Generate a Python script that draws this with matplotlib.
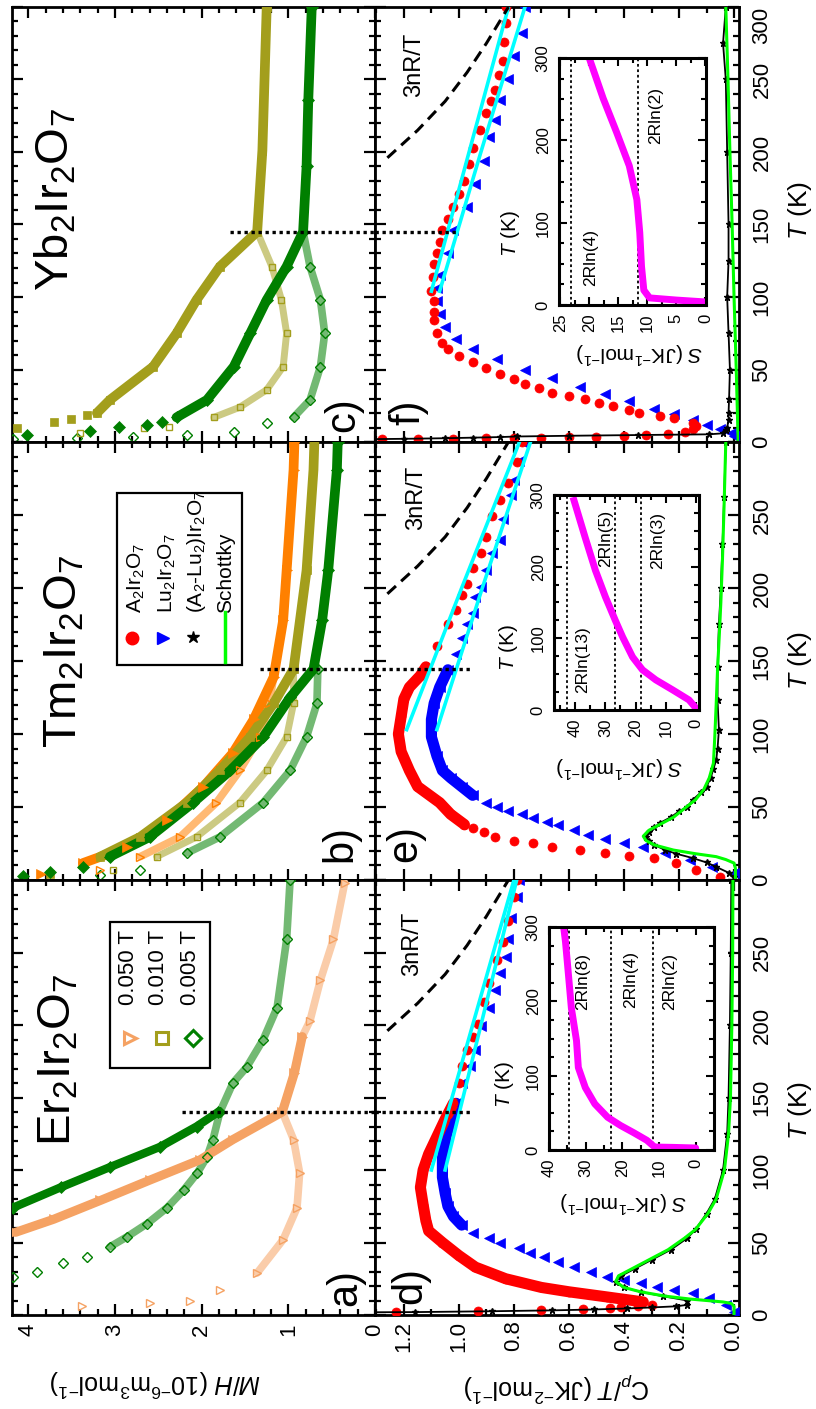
import numpy as np
import matplotlib
matplotlib.use('Agg')
import matplotlib.pyplot as plt
from matplotlib.colors import to_rgb
from matplotlib.lines import Line2D
from matplotlib.patches import Rectangle
from matplotlib.ticker import MultipleLocator, FixedLocator

plt.rcParams['font.family'] = ['Liberation Sans', 'DejaVu Sans']
plt.rcParams['mathtext.fontset'] = 'custom'
plt.rcParams['mathtext.rm'] = 'Liberation Sans'
plt.rcParams['mathtext.it'] = 'Liberation Sans:italic'
plt.rcParams['mathtext.bf'] = 'Liberation Sans:bold'
plt.rcParams['axes.linewidth'] = 2.0

# ---------------- M/H data (10^-6 m^3/mol) vs T (K) ----------------
# a) Er2Ir2O7
er_fc050_T = [57, 66, 79, 93, 107, 121, 140, 167, 192]
er_fc050 = [4.15, 3.71, 3.17, 2.60, 2.02, 1.64, 1.07, 0.93, 0.84]
er_zfc050_T = [6, 8, 10, 17, 29, 52, 74, 98, 121, 140, 167, 192, 203, 231, 259, 298]
er_zfc050 = [3.38, 2.60, 2.13, 1.79, 1.36, 1.06, 0.90, 0.87, 0.94, 1.07, 0.93, 0.84, 0.75, 0.63, 0.48, 0.35]
er_fc005_T = [74, 88, 102, 116, 130, 140]
er_fc005 = [4.18, 3.63, 3.06, 2.48, 2.06, 1.81]
er_zfc005_T = [26, 30, 36, 40, 47, 54, 63, 74, 86, 98, 109, 121, 140, 160, 171, 190, 212, 259, 300]
er_zfc005 = [4.18, 3.90, 3.60, 3.33, 3.06, 2.86, 2.63, 2.40, 2.21, 2.05, 1.94, 1.87, 1.79,
             1.64, 1.48, 1.29, 1.13, 1.02, 0.98]

# b) Tm2Ir2O7
tm_fc050_T = [4, 11.6, 22.6, 41, 64, 87, 110, 139, 178, 212, 281, 300]
tm_fc050 = [3.86, 3.37, 2.86, 2.40, 1.98, 1.64, 1.40, 1.17, 1.06, 1.02, 0.94, 0.93]
tm_zfc050_T = [7, 16, 29.5, 53, 75, 98, 121, 139]
tm_zfc050 = [3.17, 2.71, 2.25, 1.83, 1.56, 1.33, 1.22, 1.17]
tm_fc010_T = [4, 16, 29.5, 53, 75, 98, 121, 144.5, 212, 281, 300]
tm_fc010 = [3.75, 3.17, 2.71, 2.17, 1.79, 1.44, 1.17, 0.94, 0.79, 0.71, 0.70]
tm_zfc010_T = [7, 16, 29.5, 53, 75, 98, 121, 144.5]
tm_zfc010 = [3.02, 2.52, 2.06, 1.56, 1.25, 1.02, 0.94, 0.94]
tm_fc005_T = [2.7, 5.5, 9, 16, 29.5, 53, 75, 98, 125, 144.5, 178, 212, 281, 300]
tm_fc005 = [4.06, 3.75, 3.37, 3.06, 2.60, 2.10, 1.67, 1.29, 0.98, 0.71, 0.61, 0.54, 0.44, 0.43]
tm_zfc005_T = [3.4, 7, 18.5, 29.5, 53, 75, 98, 121, 144.5]
tm_zfc005 = [3.17, 2.71, 2.17, 1.79, 1.29, 0.98, 0.79, 0.67, 0.66]

# c) Yb2Ir2O7
yb_fc010_T = [10, 13.8, 16, 18.6, 20, 29, 52, 75, 98, 121, 145, 201, 300]
yb_fc010 = [4.13, 3.71, 3.51, 3.33, 3.21, 3.06, 2.56, 2.29, 2.06, 1.79, 1.36, 1.30, 1.25]
yb_zfc010_T = [6.2, 9.7, 10.3, 17, 24, 36, 52, 75, 98, 121, 145]
yb_zfc010 = [3.40, 2.67, 2.38, 1.86, 1.56, 1.25, 1.06, 1.02, 1.08, 1.19, 1.36]
yb_fc005_T = [4.8, 7.6, 10.3, 11.7, 14, 17, 29, 52, 75, 98, 121, 145, 190, 236, 300]
yb_fc005 = [4.02, 3.29, 2.96, 2.63, 2.46, 2.29, 1.94, 1.63, 1.44, 1.25, 1.02, 0.83, 0.79, 0.77, 0.73]
yb_zfc005_T = [2.0, 2.8, 3.4, 4.8, 6.9, 13, 17, 29, 52, 75, 98, 121, 145]
yb_zfc005 = [4.18, 3.44, 2.79, 2.17, 1.63, 1.25, 0.94, 0.75, 0.63, 0.58, 0.63, 0.75, 0.83]

# transition temperatures marked by dotted lines
tn_er, tn_tm, tn_yb = 140, 144.5, 145

# ---------------- Cp/T data (J K^-2 mol^-1) vs T (K) ----------------
# d) Er2Ir2O7
er_cp_T = [2.0, 2.8, 3.4, 4.0, 4.8, 5.5, 6.2, 6.9, 9, 12.4, 16, 19, 25, 33, 41, 50, 58, 65, 76, 88,
           100, 111, 123, 135, 146, 160, 172, 183, 192, 201, 216, 229, 245, 257, 272, 288, 300]
er_cp = [1.23, 0.93, 0.70, 0.55, 0.45, 0.41, 0.35, 0.30, 0.33, 0.46, 0.60, 0.70, 0.83, 0.94, 1.00,
         1.06, 1.11, 1.12, 1.13, 1.14, 1.13, 1.11, 1.08, 1.05, 1.02, 1.00, 0.99, 0.97, 0.95, 0.93,
         0.91, 0.89, 0.86, 0.84, 0.82, 0.80, 0.79]
lu_d_T = [2.3, 6.9, 11.5, 15.0, 17.2, 19.5, 21.8, 24.1, 26.4, 29.9, 33.3, 36.8, 40.2, 42.6, 46.0,
          49.4, 52.9, 56.3, 62, 68, 75, 84, 95, 108, 121, 134, 146, 160, 172, 183, 199, 212, 224,
          236, 247, 259, 274, 288, 300]
lu_d = [0.0, 0.03, 0.09, 0.15, 0.22, 0.28, 0.34, 0.40, 0.46, 0.52, 0.58, 0.64, 0.69, 0.74, 0.78,
        0.85, 0.89, 0.95, 0.99, 1.02, 1.04, 1.05, 1.06, 1.06, 1.05, 1.03, 1.01, 0.99, 0.96, 0.94,
        0.92, 0.89, 0.87, 0.85, 0.83, 0.82, 0.81, 0.79, 0.78]
diff_d_T = [1.8, 2.0, 2.6, 3.2, 3.8, 4.5, 5.2, 6.0, 7.0, 10, 13, 16, 19, 23, 27, 32, 38, 45, 53,
            59, 70, 80, 100, 125, 150, 200, 250, 300]
diff_d = [1.45, 1.16, 0.88, 0.66, 0.51, 0.39, 0.30, 0.21, 0.17, 0.17, 0.26, 0.34, 0.40, 0.43,
          0.41, 0.36, 0.30, 0.23, 0.17, 0.14, 0.10, 0.07, 0.04, 0.025, 0.02, 0.015, 0.012, 0.01]
sch_d_T = [0, 6, 8, 9, 10, 11, 13, 16, 19, 23, 27, 32, 38, 45, 53, 59, 70, 80, 100, 125, 150,
           200, 250, 300]
sch_d = [0.0, 0.0, 0.01, 0.04, 0.10, 0.16, 0.25, 0.34, 0.40, 0.43, 0.42, 0.37, 0.31, 0.24, 0.18,
         0.14, 0.095, 0.065, 0.035, 0.02, 0.013, 0.008, 0.005, 0.004]
fit_er_T, fit_er = [100, 200, 300], [1.10, 0.95, 0.80]
fit_lu_d_T, fit_lu_d = [100, 200, 300], [1.05, 0.92, 0.79]

# e) Tm2Ir2O7
tm_cp_T = [2, 6.8, 11.6, 15, 16.5, 18.5, 20.5, 22.6, 25, 27, 29.5, 33, 35.6, 38, 45, 53, 64, 75,
           88, 100, 112, 124, 132, 140, 146, 160, 175, 185, 195, 203, 214, 224, 235, 249, 260,
           272, 286, 300]
tm_cp = [0.05, 0.14, 0.21, 0.29, 0.38, 0.47, 0.56, 0.66, 0.73, 0.80, 0.87, 0.91, 0.95, 0.98,
         1.03, 1.07, 1.15, 1.18, 1.21, 1.22, 1.21, 1.20, 1.18, 1.14, 1.12, 1.08, 1.04, 1.01, 0.99,
         0.97, 0.95, 0.92, 0.90, 0.88, 0.85, 0.82, 0.79, 0.77]
lu_e_T = [5, 9, 14, 18.5, 22.6, 25, 28, 31, 34.5, 38, 40, 42.5, 45, 47, 50, 53, 58, 64, 70, 75,
          85, 98, 110, 121, 132, 144, 155, 166, 175, 183, 194, 201, 212, 224, 233, 247, 264, 274,
          287, 300]
lu_e = [0.0, 0.08, 0.16, 0.25, 0.33, 0.40, 0.47, 0.53, 0.58, 0.64, 0.68, 0.73, 0.77, 0.82, 0.86,
        0.90, 0.95, 0.99, 1.03, 1.06, 1.08, 1.10, 1.10, 1.09, 1.07, 1.04, 1.01, 0.99, 0.97, 0.95,
        0.94, 0.92, 0.90, 0.88, 0.85, 0.84, 0.81, 0.80, 0.78, 0.77]
diff_e_T = [2, 5, 9, 12, 15, 18, 20.5, 24, 27, 29.5, 33, 36, 39, 43, 47, 50, 55, 60, 64, 70, 76,
            82, 90, 103, 123, 146, 175, 200, 230, 262, 300]
diff_e = [0.0, 0.02, 0.065, 0.10, 0.15, 0.21, 0.25, 0.29, 0.31, 0.32, 0.31, 0.29, 0.27, 0.23,
          0.20, 0.17, 0.15, 0.12, 0.10, 0.085, 0.075, 0.065, 0.06, 0.055, 0.06, 0.06, 0.055,
          0.048, 0.042, 0.036, 0.03]
sch_e_T = [0, 8, 11.6, 14, 16, 18, 20.5, 24, 27, 30, 34, 38, 43, 49, 55, 62, 70, 80, 98, 120,
           144, 170, 190, 220, 258, 300]
sch_e = [-0.005, -0.005, 0.0, 0.03, 0.065, 0.14, 0.22, 0.29, 0.32, 0.33, 0.31, 0.27, 0.22, 0.18,
         0.14, 0.11, 0.09, 0.075, 0.07, 0.065, 0.06, 0.053, 0.048, 0.042, 0.036, 0.03]
fit_tm_T, fit_tm = [103, 200, 300], [1.19, 0.99, 0.78]
fit_lu_e_T, fit_lu_e = [103, 200, 300], [1.08, 0.915, 0.74]

# f) Yb2Ir2O7
yb_cp_T = [2.0, 2.2, 2.4, 2.6, 2.8, 3.0, 3.3, 3.6, 4.0, 4.5, 5.5, 7, 9, 11, 13, 16.6, 18, 20, 22,
           25, 27, 30, 32, 34, 37, 40, 43.5, 47, 51, 55, 59, 64, 68, 75, 84, 90, 97, 104, 114,
           123, 130, 138, 146, 154, 162, 171, 180, 192, 203, 215, 227, 235, 243, 253, 263, 276,
           289, 300]
yb_cp = [1.28, 1.15, 1.02, 0.90, 0.80, 0.70, 0.60, 0.50, 0.40, 0.32, 0.24, 0.18, 0.15, 0.14,
         0.15, 0.22, 0.27, 0.345, 0.38, 0.44, 0.49, 0.54, 0.60, 0.66, 0.71, 0.76, 0.80, 0.85,
         0.90, 0.95, 1.00, 1.04, 1.06, 1.08, 1.09, 1.09, 1.09, 1.10, 1.095, 1.09, 1.08, 1.07,
         1.06, 1.04, 1.02, 1.00, 0.98, 0.965, 0.95, 0.925, 0.90, 0.885, 0.87, 0.855, 0.84,
         0.835, 0.83, 0.83]
lu_f_T = [4, 6, 9, 12, 15, 19, 23, 28, 33, 38, 44, 50, 57, 64, 71, 79, 88, 97, 106, 115, 130,
          146, 162, 178, 194, 210, 222, 236, 250, 266, 282, 300]
lu_f = [0.0, 0.01, 0.05, 0.10, 0.15, 0.22, 0.29, 0.38, 0.47, 0.56, 0.66, 0.76, 0.86, 0.95, 1.01,
        1.05, 1.07, 1.08, 1.08, 1.07, 1.04, 1.02, 0.97, 0.94, 0.91, 0.89, 0.87, 0.85, 0.82,
        0.80, 0.77, 0.76]
diff_f_T = [1.8, 2.2, 2.6, 3.0, 3.4, 3.8, 4.3, 4.8, 5.3, 6, 8, 10, 15, 20, 30, 50, 75, 100, 125,
            150, 200, 250, 275, 300]
diff_f = [1.4, 1.2, 1.05, 0.95, 0.85, 0.79, 0.6, 0.35, 0.09, 0.04, 0.03, 0.025, 0.02, 0.02,
          0.018, 0.015, 0.02, 0.025, 0.02, 0.02, 0.025, 0.03, 0.04, 0.03]
sch_f_T = [0, 50, 100, 150, 200, 250, 300]
sch_f = [-0.015, -0.008, 0.0, 0.007, 0.015, 0.022, 0.03]
fit_yb_T, fit_yb = [104, 200, 300], [1.10, 0.963, 0.82]
fit_lu_f_T, fit_lu_f = [104, 200, 300], [1.07, 0.92, 0.76]

# 3nR/T guide
dulong_T = [196, 215, 235, 255, 275, 300]
dulong = [1.26, 1.15, 1.05, 0.97, 0.90, 0.82]

# entropy insets, S (J/K/mol) vs T (K)
s_er_T = [1, 2.7, 3.5, 4, 13, 23, 33, 44, 62, 84, 111, 147, 191, 236, 280, 300]
s_er = [0, 0, 6, 11.2, 13.3, 16.8, 20.5, 24, 27.5, 30.1, 32, 32.5, 33.9, 34.7, 35.5, 36]
s_tm_T = [0, 14, 28, 42, 56, 74, 102, 125, 158, 195, 241, 297]
s_tm = [-0.5, 2.3, 7.7, 13.3, 17.7, 21, 24.3, 26.7, 30, 33.3, 36.7, 40.7]
s_yb_T = [3.7, 6, 8.6, 18, 47, 88, 128, 169, 210, 251, 300]
s_yb = [0, 5, 9.6, 10.6, 11.0, 11.3, 11.8, 13.1, 15.3, 17.6, 20]
R = 8.314

# tick labels
mh_ticks = [0, 1, 2, 3, 4]
cp_ticks = [0.0, 0.2, 0.4, 0.6, 0.8, 1.0, 1.2]
cp_tick_labels = ['0.0', '0.2', '0.4', '0.6', '0.8', '1.0', '1.2']
t_ticks = [0, 50, 100, 150, 200, 250, 300]

C_SANDY = '#F5A263'
C_ORANGE = '#FF8000'
C_OLIVE = '#A39E1C'
C_GREEN = '#007F00'
C_RED = '#FF0000'
C_BLUE = '#0000FF'
C_LIME = '#00FF00'
C_CYAN = '#00FFFF'
C_MAG = '#FF00FF'

W, H = 816, 1409
fig = plt.figure(figsize=(W / 100, H / 100), dpi=100)


def px(x0, y0, x1, y1):
    return [x0 / W, 1 - y1 / H, (x1 - x0) / W, (y1 - y0) / H]


def ftext(x, y, s, size, rot=90, ha='center', va='center', **kw):
    fig.text(x / W, 1 - y / H, s, fontsize=size, rotation=rot, ha=ha, va=va, zorder=6, **kw)


def lighten(c, f):
    r, g, b = to_rgb(c)
    return (r + (1 - r) * f, g + (1 - g) * f, b + (1 - b) * f)


def draw(ax, T, v, color, marker, ms=6, hollow=False, band=(0, 301), lw=None, z=3):
    T = np.asarray(T, float)
    v = np.asarray(v, float)
    keep = (T >= band[0]) & (T <= band[1])
    if keep.sum() > 1:
        ax.plot(v[keep], T[keep], color=lighten(color, 0.45) if hollow else color,
                lw=lw or ms, solid_capstyle='round', solid_joinstyle='round', zorder=z)
    ax.plot(v, T, ls='none', marker=marker, ms=ms,
            mfc='none' if hollow else color, mec=color,
            mew=1.0 if hollow else 0.5, zorder=z + 0.1)


def frame(ax, xmaj, xmin_step, ymin_step=10, maj_len=8, min_len=4.5, width=1.6):
    ax.xaxis.set_major_locator(FixedLocator(xmaj))
    ax.xaxis.set_minor_locator(MultipleLocator(xmin_step))
    ax.yaxis.set_major_locator(FixedLocator(t_ticks))
    ax.yaxis.set_minor_locator(MultipleLocator(ymin_step))
    ax.tick_params(which='both', direction='in', top=True, bottom=True, left=True, right=True,
                   labelleft=False, labelbottom=False, width=width)
    ax.tick_params(which='major', length=maj_len)
    ax.tick_params(which='minor', length=min_len)


def mh_axes(box):
    ax = fig.add_axes(px(*box))
    ax.set_xlim(4.19, 0)
    ax.set_ylim(0, 300)
    frame(ax, mh_ticks, 0.2)
    return ax


def cp_axes(box, top_label):
    ax = fig.add_axes(px(*box))
    ax.set_xlim(1.305, -0.018)
    ax.set_ylim(0, 300)
    frame(ax, cp_ticks, 0.1)
    labels = [str(t) for t in t_ticks]
    if not top_label:
        labels[-1] = ''
    ax.set_yticks(t_ticks, labels)
    ax.tick_params(axis='y', labelright=True, labelrotation=90, labelsize=16, pad=9)
    for lab in ax.get_yticklabels():
        lab.set_va('center')
    if top_label:
        # keep the 300 label inside the canvas
        ax.get_yticklabels()[-1].set_va('top')
    return ax


ax_c = mh_axes((12, 7, 375, 442))
ax_b = mh_axes((12, 442, 375, 880))
ax_a = mh_axes((12, 880, 375, 1315))
ax_a.tick_params(axis='x', labelbottom=True, labelrotation=90, labelsize=16, pad=6)

ax_f = cp_axes((375, 7, 739, 442), True)
ax_e = cp_axes((375, 442, 739, 880), False)
ax_d = cp_axes((375, 880, 739, 1315), False)
ax_d.set_xticks(cp_ticks, cp_tick_labels)
ax_d.tick_params(axis='x', labelbottom=True, labelrotation=90, labelsize=16, pad=4)

# ---- magnetisation panels ----
draw(ax_a, er_zfc005_T, er_zfc005, C_GREEN, 'D', ms=5.5, hollow=True, band=(45, 301))
draw(ax_a, er_zfc050_T, er_zfc050, C_SANDY, '>', ms=5.5, hollow=True, band=(25, 301))
draw(ax_a, er_fc050_T, er_fc050, C_SANDY, '>', ms=6.5)
draw(ax_a, er_fc005_T, er_fc005, C_GREEN, 'D', ms=6)

draw(ax_b, tm_zfc005_T, tm_zfc005, C_GREEN, 'D', ms=5.5, hollow=True, band=(15, 301))
draw(ax_b, tm_zfc010_T, tm_zfc010, C_OLIVE, 's', ms=5, hollow=True, band=(15, 301))
draw(ax_b, tm_zfc050_T, tm_zfc050, C_ORANGE, '>', ms=5.5, hollow=True, band=(15, 301))
draw(ax_b, tm_fc050_T, tm_fc050, C_ORANGE, '>', ms=6.5, band=(10, 301), lw=7)
draw(ax_b, tm_fc010_T, tm_fc010, C_OLIVE, 's', ms=6, band=(14, 301), lw=7)
draw(ax_b, tm_fc005_T, tm_fc005, C_GREEN, 'D', ms=6, band=(14, 301), lw=7)

draw(ax_c, yb_zfc005_T, yb_zfc005, C_GREEN, 'D', ms=5.5, hollow=True, band=(15, 301))
draw(ax_c, yb_zfc010_T, yb_zfc010, C_OLIVE, 's', ms=5, hollow=True, band=(15, 301))
draw(ax_c, yb_fc010_T, yb_fc010, C_OLIVE, 's', ms=6, band=(19, 301), lw=7)
draw(ax_c, yb_fc005_T, yb_fc005, C_GREEN, 'D', ms=6, band=(16, 301), lw=7)

dot = dict(color='black', lw=2.4, dashes=(1, 1.1), zorder=6)
ax_a.plot([2.23, 0], [tn_er, tn_er], **dot)
ax_d.plot([1.305, 0.96], [tn_er, tn_er], **dot)
ax_b.plot([1.33, 0], [tn_tm, tn_tm], **dot)
ax_e.plot([1.305, 0.95], [tn_tm, tn_tm], **dot)
ax_c.plot([1.67, 0], [tn_yb, tn_yb], **dot)
ax_f.plot([1.305, 1.0], [tn_yb, tn_yb], **dot)

# ---- specific heat panels ----
cp_sets = [
    (ax_d, er_cp_T, er_cp, (8, 150), lu_d_T, lu_d, (58, 150), diff_d_T, diff_d, sch_d_T, sch_d,
     (fit_er_T, fit_er), (fit_lu_d_T, fit_lu_d)),
    (ax_e, tm_cp_T, tm_cp, (38, 150), lu_e_T, lu_e, (55, 150), diff_e_T, diff_e, sch_e_T, sch_e,
     (fit_tm_T, fit_tm), (fit_lu_e_T, fit_lu_e)),
    (ax_f, yb_cp_T, yb_cp, (400, 401), lu_f_T, lu_f, (400, 401), diff_f_T, diff_f, sch_f_T, sch_f,
     (fit_yb_T, fit_yb), (fit_lu_f_T, fit_lu_f)),
]
for (ax, aT, av, aband, lT, lv, lband, dT, dv, sT, sv, fa, fl) in cp_sets:
    draw(ax, lT, lv, C_BLUE, '<', ms=7, band=lband, lw=8)
    draw(ax, aT, av, C_RED, 'o', ms=6.5, band=aband, lw=8)
    ax.plot(dv, dT, color='black', lw=1.3, marker='*', ms=5, zorder=4)
    ax.plot(sv, sT, color=C_LIME, lw=2.2, zorder=5)
    ax.plot(fa[1], fa[0], color=C_CYAN, lw=2.6, zorder=5)
    ax.plot(fl[1], fl[0], color=C_CYAN, lw=2.6, zorder=5)
    ax.plot(dulong, dulong_T, color='black', lw=2.2, dashes=(3.8, 2.3), zorder=5)

# ---- entropy insets ----
inset_specs = [
    ((549, 927, 714, 1150), (40, -5), 10, 5, s_er_T, s_er, [8, 4, 2]),
    ((554, 495, 699, 710), (47, -1), 10, 5, s_tm_T, s_tm, [13, 5, 3]),
    ((559, 58, 706, 305), (25.2, -0.1), 5, 2.5, s_yb_T, s_yb, [4, 2]),
]
for box, slim, smaj, smin, sT, sv, degs in inset_specs:
    ins = fig.add_axes(px(*box))
    ins.set_facecolor('white')
    for sp in ins.spines.values():
        sp.set_linewidth(2.2)
    ins.set_xlim(*slim)
    ins.set_ylim(0, 300)
    ins.xaxis.set_major_locator(MultipleLocator(smaj))
    ins.xaxis.set_minor_locator(MultipleLocator(smin))
    ins.yaxis.set_major_locator(FixedLocator([0, 100, 200, 300]))
    ins.yaxis.set_minor_locator(MultipleLocator(25))
    ins.tick_params(which='both', direction='in', top=True, right=True, width=1.5,
                    labelsize=12, labelrotation=90, pad=6)
    ins.tick_params(which='major', length=6)
    ins.tick_params(which='minor', length=3.5)
    for lab in ins.get_yticklabels():
        lab.set_va('center')
    for n in degs:
        ins.axvline(2 * R * np.log(n), color='black', lw=1.3, dashes=(1.5, 1.5))
    ins.plot(sv, sT, color=C_MAG, lw=5, solid_capstyle='butt')

# ---- texts ----
ftext(59, 1060, r'Er$_2$Ir$_2$O$_7$', 34)
ftext(64, 651, r'Tm$_2$Ir$_2$O$_7$', 34)
ftext(56, 200, r'Yb$_2$Ir$_2$O$_7$', 34)

for s, x, y in [('a)', 345, 1288), ('b)', 340, 843), ('c)', 343, 415),
                ('d)', 410, 1285), ('e)', 405, 843), ('f)', 408, 412)]:
    ftext(x, y, s, 30)

for x, y in [(412, 944), (416, 498), (414, 65)]:
    ftext(x, y, '3nR/T', 17)

for y in [1110, 660, 210]:
    ftext(800, y, r'$T$ (K)', 19)

ftext(155, 1383, r'$M/H$ (10$^{-6}$m$^{3}$mol$^{-1}$)', 18, rot=180)
ftext(557, 1387, r'C$_p$/$T$ (JK$^{-2}$mol$^{-1}$)', 18, rot=180)

# inset axis labels
for x, y in [(504, 1084), (509, 647), (511, 233)]:
    ftext(x, y, r'$T$ (K)', 15)
for x, y in [(623, 1202), (619, 767), (639, 353)]:
    ftext(x, y, r'$S$ (JK$^{-1}$mol$^{-1}$)', 15, rot=180)
for s, x, y in [('2Rln(8)', 583, 981), ('2Rln(4)', 631, 980), ('2Rln(2)', 670, 981),
                ('2Rln(13)', 583, 660), ('2Rln(5)', 606, 538), ('2Rln(3)', 658, 540),
                ('2Rln(4)', 591, 257), ('2Rln(2)', 656, 115)]:
    ftext(x, y, s, 12.5)

# ---- legends ----
def box(x0, y0, x1, y1):
    fig.add_artist(Rectangle((x0 / W, 1 - y1 / H), (x1 - x0) / W, (y1 - y0) / H,
                             transform=fig.transFigure, fc='white', ec='black', lw=1.6, zorder=5))


def mark(x, y, **kw):
    fig.add_artist(Line2D([x / W], [1 - y / H], transform=fig.transFigure, zorder=6, **kw))


box(110, 922, 210, 1068)
for x_m, x_t, mk, col, s in [(130, 128, '>', C_SANDY, '0.050 T'),
                             (162, 158, 's', C_OLIVE, '0.010 T'),
                             (193, 190, 'D', C_GREEN, '0.005 T')]:
    mark(x_m, 1038, marker=mk, ms=8, mfc='none', mec=col, mew=2.2, ls='none')
    ftext(x_t, 1005, s, 16, va='bottom')

box(117, 493, 242, 665)
mark(132, 638, marker='o', ms=9, color=C_RED, ls='none')
mark(163, 638, marker='>', ms=9, color=C_BLUE, ls='none')
mark(193, 637, marker='*', ms=9, color='black', ls='none')
fig.add_artist(Line2D([225 / W, 225 / W], [1 - 612 / H, 1 - 662 / H], transform=fig.transFigure,
                      color=C_LIME, lw=2.5, zorder=6))
for x, s in [(136, r'A$_2$Ir$_2$O$_7$'), (167, r'Lu$_2$Ir$_2$O$_7$'),
             (197, r'(A$_2$-Lu$_2$)Ir$_2$O$_7$'), (226, 'Schottky')]:
    ftext(x, 613, s, 15, va='bottom')

fig.savefig('out.png', dpi=100, facecolor='white')
